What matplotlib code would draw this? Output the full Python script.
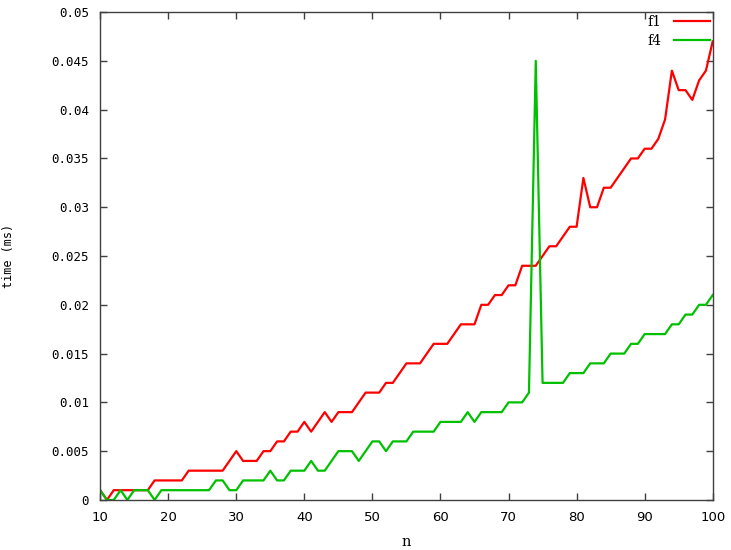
import matplotlib
matplotlib.use("Agg")
import matplotlib.pyplot as plt
import numpy as np

# problem size n and run times (ms)
n = list(range(10, 101))

f1 = [0.001, 0.000, 0.001, 0.001, 0.001, 0.001, 0.001, 0.001, 0.002, 0.002,
      0.002, 0.002, 0.002, 0.003, 0.003, 0.003, 0.003, 0.003, 0.003, 0.004,
      0.005, 0.004, 0.004, 0.004, 0.005, 0.005, 0.006, 0.006, 0.007, 0.007,
      0.008, 0.007, 0.008, 0.009, 0.008, 0.009, 0.009, 0.009, 0.010, 0.011,
      0.011, 0.011, 0.012, 0.012, 0.013, 0.014, 0.014, 0.014, 0.015, 0.016,
      0.016, 0.016, 0.017, 0.018, 0.018, 0.018, 0.020, 0.020, 0.021, 0.021,
      0.022, 0.022, 0.024, 0.024, 0.024, 0.025, 0.026, 0.026, 0.027, 0.028,
      0.028, 0.033, 0.030, 0.030, 0.032, 0.032, 0.033, 0.034, 0.035, 0.035,
      0.036, 0.036, 0.037, 0.039, 0.044, 0.042, 0.042, 0.041, 0.043, 0.044,
      0.047]

f4 = [0.001, 0.000, 0.000, 0.001, 0.000, 0.001, 0.001, 0.001, 0.000, 0.001,
      0.001, 0.001, 0.001, 0.001, 0.001, 0.001, 0.001, 0.002, 0.002, 0.001,
      0.001, 0.002, 0.002, 0.002, 0.002, 0.003, 0.002, 0.002, 0.003, 0.003,
      0.003, 0.004, 0.003, 0.003, 0.004, 0.005, 0.005, 0.005, 0.004, 0.005,
      0.006, 0.006, 0.005, 0.006, 0.006, 0.006, 0.007, 0.007, 0.007, 0.007,
      0.008, 0.008, 0.008, 0.008, 0.009, 0.008, 0.009, 0.009, 0.009, 0.009,
      0.010, 0.010, 0.010, 0.011, 0.045, 0.012, 0.012, 0.012, 0.012, 0.013,
      0.013, 0.013, 0.014, 0.014, 0.014, 0.015, 0.015, 0.015, 0.016, 0.016,
      0.017, 0.017, 0.017, 0.017, 0.018, 0.018, 0.019, 0.019, 0.020, 0.020,
      0.021]

xticks = [10, 20, 30, 40, 50, 60, 70, 80, 90, 100]
yticks = [0, 0.005, 0.01, 0.015, 0.02, 0.025, 0.03, 0.035, 0.04, 0.045, 0.05]
ytick_labels = ["0", "0.005", "0.01", "0.015", "0.02", "0.025",
                "0.03", "0.035", "0.04", "0.045", "0.05"]

fig = plt.figure(figsize=(7.31, 5.5), dpi=100)
ax = fig.add_axes([0.137, 0.091, 0.838, 0.887])

ax.plot(n, f1, color="#ff0000", linewidth=1.6, label="f1")
ax.plot(n, f4, color="#00c000", linewidth=1.6, label="f4")

ax.set_xlim(10, 100)
ax.set_ylim(0, 0.05)
ax.set_xticks(xticks)
ax.set_yticks(yticks)
ax.set_yticklabels(ytick_labels, family="DejaVu Sans Mono", fontsize=9)
ax.set_xticklabels([str(t) for t in xticks], family="DejaVu Sans", fontsize=9.5)

ax.tick_params(direction="in", length=5, width=1, color="#404040",
               top=True, right=True, pad=8)
for s in ax.spines.values():
    s.set_color("#404040")
    s.set_linewidth(1)

ax.set_xlabel("n", family="DejaVu Serif", fontsize=10.5, labelpad=8)
ax.set_ylabel("time (ms)", family="DejaVu Sans Mono", fontsize=8.5, labelpad=26)

leg = ax.legend(loc="upper right", frameon=False, markerfirst=False,
                prop={"family": "DejaVu Serif", "size": 10},
                handlelength=2.6, handletextpad=0.9, borderaxespad=0.0,
                borderpad=0.2, labelspacing=0.35)

fig.savefig("out.png", dpi=100)
